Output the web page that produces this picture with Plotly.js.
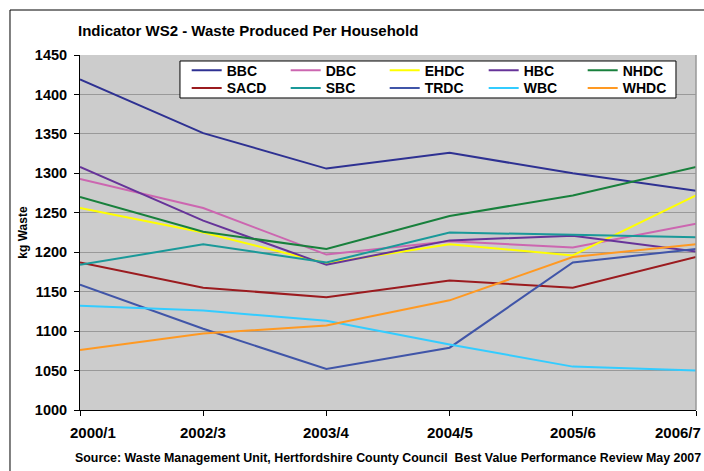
<!DOCTYPE html>
<html>
<head>
<meta charset="utf-8">
<script src="https://cdn.plot.ly/plotly-3.0.1.min.js"></script>
<style>
html, body { margin: 0; padding: 0; background: #ffffff; overflow: hidden; }
#chart { width: 704px; height: 471px; }
</style>
</head>
<body>
<div id="chart"></div>
<script>
const categories = ['2000/1', '2002/3', '2003/4', '2004/5', '2005/6', '2006/7'];
const seriesNames = ['BBC', 'DBC', 'EHDC', 'HBC', 'NHDC', 'SACD', 'SBC', 'TRDC', 'WBC', 'WHDC'];
const BBC  = [1419, 1351, 1306, 1326, 1300, 1278];
const DBC  = [1293, 1256, 1197, 1214, 1206, 1236];
const EHDC = [1256, 1225, 1186, 1210, 1196, 1272];
const HBC  = [1308, 1240, 1184, 1215, 1221, 1201];
const NHDC = [1270, 1226, 1204, 1246, 1272, 1308];
const SACD = [1187, 1155, 1143, 1164, 1155, 1194];
const SBC  = [1184, 1210, 1187, 1225, 1222, 1219];
const TRDC = [1159, 1103, 1052, 1079, 1187, 1204];
const WBC  = [1132, 1126, 1113, 1083, 1055, 1050];
const WHDC = [1076, 1097, 1107, 1139, 1194, 1210];
const yTicks = [1000, 1050, 1100, 1150, 1200, 1250, 1300, 1350, 1400, 1450];

const seriesValues = [BBC, DBC, EHDC, HBC, NHDC, SACD, SBC, TRDC, WBC, WHDC];
const colors = ['#2E3192', '#CC66B0', '#FFFF00', '#663399', '#18803C',
                '#9B1B1F', '#1A9999', '#4055A8', '#33CCFF', '#FF9922'];

const FONT = 'Liberation Sans, Arial, sans-serif';

const traces = seriesNames.map((name, i) => ({
  type: 'scatter',
  mode: 'lines',
  name: name,
  x: categories,
  y: seriesValues[i],
  line: { color: colors[i], width: 2 },
  legend: i < 5 ? 'legend' : 'legend2',
  hoverinfo: 'x+y+name'
}));

const legendCommon = {
  orientation: 'h',
  xanchor: 'left',
  yanchor: 'middle',
  x: 0.1732,
  entrywidth: 54,
  entrywidthmode: 'pixels',
  bgcolor: 'rgba(0,0,0,0)',
  borderwidth: 0,
  itemwidth: 30,
  font: { family: FONT, size: 14, color: '#000000', weight: 'bold' }
};

const xLabelShift = [12.5, 0, 0, 0, 0, -18];
const xLabelAnnotations = categories.map((c, i) => ({
  x: c, xref: 'x',
  y: -0.0634, yref: 'paper',
  xanchor: 'center', yanchor: 'middle',
  xshift: xLabelShift[i],
  text: '<b>' + c + '</b>',
  showarrow: false,
  font: { family: FONT, size: 15, color: '#000000' }
}));

const layout = {
  width: 704,
  height: 471,
  margin: { l: 80, r: 8, t: 55, b: 61 },
  paper_bgcolor: '#ffffff',
  plot_bgcolor: '#CCCCCC',
  showlegend: true,
  title: {
    text: '<b>Indicator WS2 - Waste Produced Per Household</b>',
    xref: 'container', x: 78 / 704, xanchor: 'left',
    yref: 'container', y: 1 - 31 / 471, yanchor: 'middle',
    font: { family: FONT, size: 15, color: '#000000' }
  },
  xaxis: {
    type: 'category',
    range: [0, 5],
    showticklabels: false,
    ticks: 'outside',
    ticklen: 5,
    tickcolor: '#000000',
    showline: true,
    linecolor: '#000000',
    linewidth: 1,
    showgrid: false,
    zeroline: false,
    fixedrange: true
  },
  yaxis: {
    range: [1000, 1450],
    tickvals: yTicks,
    ticktext: yTicks.map(v => '<b>' + v + '</b>'),
    ticks: 'outside',
    ticklen: 5,
    tickcolor: '#000000',
    ticklabelstandoff: 4,
    tickfont: { family: FONT, size: 14.5, color: '#000000' },
    showline: true,
    linecolor: '#000000',
    linewidth: 1,
    showgrid: true,
    gridcolor: '#999999',
    gridwidth: 1,
    zeroline: false,
    fixedrange: true,
    title: {
      text: '<b>kg Waste</b>',
      font: { family: FONT, size: 12, color: '#000000' },
      standoff: 4
    }
  },
  legend: Object.assign({}, legendCommon, { y: 0.9558 }),
  legend2: Object.assign({}, legendCommon, { y: 0.9062 }),
  shapes: [
    // outer chart border
    { type: 'rect', xref: 'paper', yref: 'paper',
      x0: -0.11364, x1: 1.04, y0: -0.20, y1: 1.12676,
      line: { color: '#000000', width: 1 }, fillcolor: 'rgba(0,0,0,0)', layer: 'below' },
    // plot area right border
    { type: 'line', xref: 'paper', yref: 'paper', x0: 1, x1: 1, y0: 0, y1: 1,
      line: { color: '#999999', width: 1.5 }, layer: 'above' },
    // legend box
    { type: 'rect', xref: 'paper', yref: 'paper',
      x0: 0.1623, x1: 0.9675, y0: 0.8789, y1: 0.9831,
      line: { color: '#000000', width: 1 }, fillcolor: '#ffffff', layer: 'above' }
  ],
  annotations: xLabelAnnotations.concat([
    {
      x: 0.5, xref: 'paper', y: -0.1352, yref: 'paper',
      xanchor: 'center', yanchor: 'middle',
      text: '<b>Source: Waste Management Unit, Hertfordshire County Council  Best Value Performance Review May 2007</b>',
      showarrow: false,
      font: { family: FONT, size: 12.4, color: '#000000' }
    }
  ])
};

Plotly.newPlot('chart', traces, layout, { displayModeBar: false, staticPlot: true });
</script>
</body>
</html>
